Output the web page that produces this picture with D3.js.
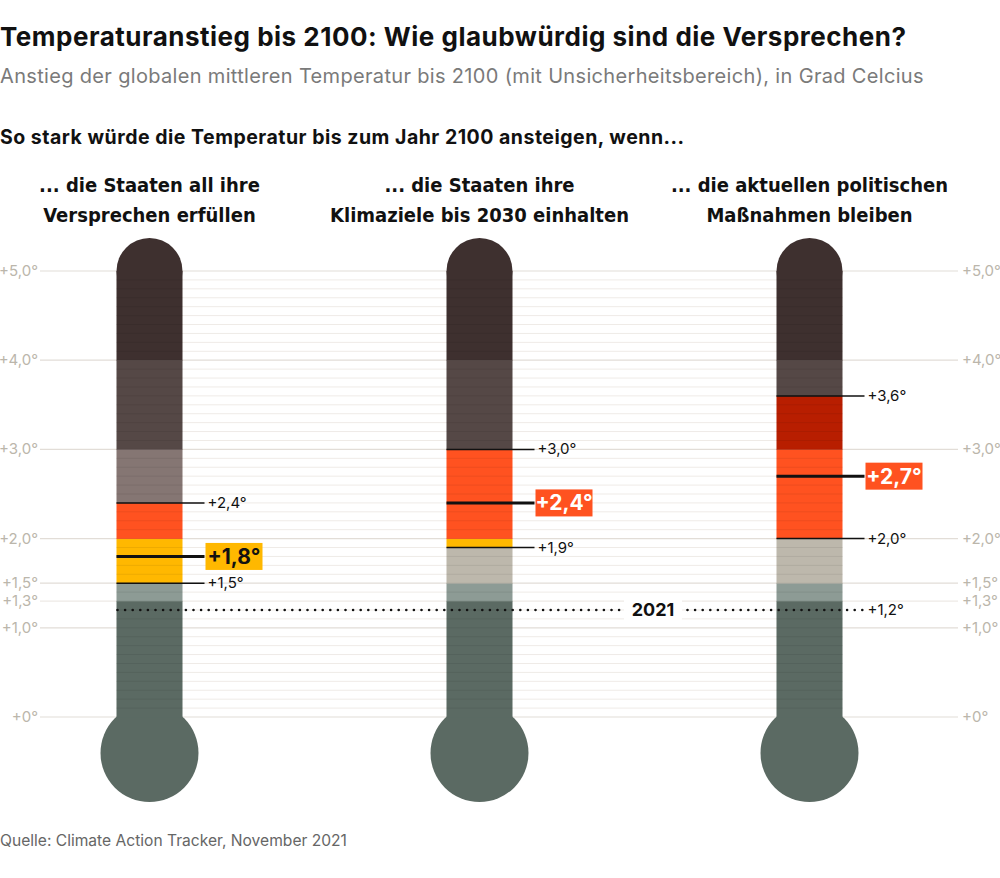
<!DOCTYPE html>
<html>
<head>
<meta charset="utf-8">
<script src="https://d3js.org/d3.v7.min.js"></script>
<style>
  body { margin: 0; background: #fff; }
  svg { display: block; }
  .title { font-family: Inter, "Noto Sans", sans-serif; font-weight: 700; }
  .cond { font-family: "DejaVu Sans Condensed", "DejaVu Sans", sans-serif; font-stretch: condensed; font-weight: 700; }
</style>
</head>
<body>
<div id="chart"></div>
<script>
(function() {
  // --- Daten ---
  const headerLine1 = ["... die Staaten all ihre", "... die Staaten ihre", "... die aktuellen politischen"];
  const headerLine2 = ["Versprechen erfüllen", "Klimaziele bis 2030 einhalten", "Maßnahmen bleiben"];
  const lowValues  = [1.5, 1.9, 2.0];
  const midValues  = [1.8, 2.4, 2.7];
  const highValues = [2.4, 3.0, 3.6];
  const value2021 = 1.2;
  const tickValues = [0, 1, 1.3, 1.5, 2, 3, 4, 5];
  const tickLabels = ["+0°", "+1,0°", "+1,3°", "+1,5°", "+2,0°", "+3,0°", "+4,0°", "+5,0°"];

  // Temperaturzonen: Farbe im Unsicherheitsbereich / außerhalb
  const zoneStart = [0, 1.3, 1.5, 2, 3, 4];
  const zoneEnd   = [1.3, 1.5, 2, 3, 4, 5];
  const zoneActive = ["#5b6a63", "#8d9b95", "#ffb800", "#ff5220", "#b81e00", "#3e302f"];
  const zoneMuted  = ["#5b6a63", "#8d9b95", "#bdb8ac", "#857673", "#554846", "#3e302f"];

  const fmt = v => "+" + d3.format(".1f")(v).replace(".", ",") + "°";

  // --- Layout ---
  const width = 1000, height = 878;
  const tubeW = 66;
  const svg = d3.select("#chart").append("svg")
    .attr("width", width).attr("height", height);

  const y = d3.scaleLinear().domain([0, 5]).range([717, 271]);
  const x = d3.scalePoint().domain(d3.range(3)).range([149.5, 809.5]);

  // --- Texte oben ---
  svg.append("text").attr("class", "title").attr("x", 0).attr("y", 46)
    .attr("font-size", 26).attr("letter-spacing", 0.5).attr("fill", "#111")
    .text("Temperaturanstieg bis 2100: Wie glaubwürdig sind die Versprechen?");
  svg.append("text").attr("x", 0).attr("y", 83)
    .style("font-family", "Inter, 'Noto Sans', sans-serif")
    .attr("font-size", 20).attr("letter-spacing", 0.33).attr("fill", "#7a7a7a")
    .text("Anstieg der globalen mittleren Temperatur bis 2100 (mit Unsicherheitsbereich), in Grad Celcius");
  svg.append("text").attr("class", "title").attr("x", 0).attr("y", 144)
    .attr("font-size", 19.5).attr("letter-spacing", 0.5).attr("fill", "#111")
    .text("So stark würde die Temperatur bis zum Jahr 2100 ansteigen, wenn...");

  svg.selectAll(".h1").data(headerLine1).enter().append("text")
    .attr("class", "cond").attr("x", (d, i) => x(i)).attr("y", 192)
    .attr("text-anchor", "middle").attr("font-size", 20).attr("fill", "#111")
    .text(d => d);
  svg.selectAll(".h2").data(headerLine2).enter().append("text")
    .attr("class", "cond").attr("x", (d, i) => x(i)).attr("y", 222)
    .attr("text-anchor", "middle").attr("font-size", 20).attr("fill", "#111")
    .text(d => d);

  // --- Gitterlinien ---
  const minor = d3.range(1, 50).map(i => i / 10).filter(v => !tickValues.some(t => Math.abs(t - v) < 1e-6));
  const tubeLeft = x(0) - tubeW / 2, tubeRight = x(2) + tubeW / 2;
  svg.append("g").selectAll("line").data(minor).enter().append("line")
    .attr("x1", tubeLeft).attr("x2", tubeRight)
    .attr("y1", d => y(d)).attr("y2", d => y(d))
    .attr("stroke", "#efebe7").attr("stroke-width", 1);

  svg.append("g").selectAll("line").data(tickValues).enter().append("line")
    .attr("x1", 40).attr("x2", 958)
    .attr("y1", d => y(d)).attr("y2", d => y(d))
    .attr("stroke", d => d === 1.3 ? "#eeeae6" : "#e2ddd7").attr("stroke-width", 1.2);

  const tickFont = "Inter, 'Noto Sans', sans-serif";
  svg.append("g").selectAll("text").data(tickValues).enter().append("text")
    .attr("x", 38).attr("y", d => y(d) + 5).attr("text-anchor", "end")
    .style("font-family", tickFont).attr("font-size", 15).attr("fill", "#bbb6ab")
    .text((d, i) => tickLabels[i]);
  svg.append("g").selectAll("text").data(tickValues).enter().append("text")
    .attr("x", 962).attr("y", d => y(d) + 5)
    .style("font-family", tickFont).attr("font-size", 15).attr("fill", "#bbb6ab")
    .text((d, i) => tickLabels[i]);

  // --- Thermometer ---
  d3.range(3).forEach(i => {
    const cx = x(i), x0 = cx - tubeW / 2;
    const lo = lowValues[i], hi = highValues[i];
    const g = svg.append("g");

    // Kappe oben und Kugel unten
    g.append("circle").attr("cx", cx).attr("cy", y(5)).attr("r", tubeW / 2).attr("fill", zoneMuted[5]);
    g.append("circle").attr("cx", cx).attr("cy", y(0) + 36).attr("r", 49).attr("fill", zoneMuted[0]);

    // Segmente pro Zone, aufgeteilt nach Unsicherheitsbereich
    const segs = [];
    zoneStart.forEach((a, z) => {
      const b = zoneEnd[z];
      const cuts = [a, b];
      if (z >= 2) [lo, hi].forEach(c => { if (c > a && c < b) cuts.push(c); });
      cuts.sort((p, q) => p - q);
      for (let k = 0; k < cuts.length - 1; k++) {
        const s = cuts[k], e = cuts[k + 1], m = (s + e) / 2;
        const inside = z >= 2 && m > lo && m < hi;
        segs.push({ s, e, color: inside ? zoneActive[z] : zoneMuted[z] });
      }
    });
    g.selectAll("rect").data(segs).enter().append("rect")
      .attr("x", x0).attr("width", tubeW)
      .attr("y", d => y(d.e)).attr("height", d => y(d.s) - y(d.e) + 0.3)
      .attr("fill", d => d.color);

    // feine Streifen im Rohr
    g.append("g").selectAll("line").data(d3.range(1, 50).map(k => k / 10)).enter().append("line")
      .attr("x1", x0).attr("x2", x0 + tubeW)
      .attr("y1", d => y(d)).attr("y2", d => y(d))
      .attr("stroke", "rgba(0,0,0,0.07)").attr("stroke-width", 1);

    // Markierungen
    const lineEnd = x0 + tubeW + 22;
    [lo, hi].forEach(v => {
      g.append("line").attr("x1", x0).attr("x2", lineEnd)
        .attr("y1", y(v)).attr("y2", y(v)).attr("stroke", "#111").attr("stroke-width", 1.5);
      g.append("text").attr("x", lineEnd + 3).attr("y", y(v) + 5)
        .style("font-family", tickFont).attr("font-size", 15).attr("fill", "#111")
        .text(fmt(v));
    });

    const mid = midValues[i];
    const midZone = zoneStart.findIndex((a, z) => mid >= a && mid < zoneEnd[z]);
    g.append("line").attr("x1", x0).attr("x2", lineEnd)
      .attr("y1", y(mid)).attr("y2", y(mid)).attr("stroke", "#111").attr("stroke-width", 3);
    g.append("rect").attr("x", lineEnd + 1).attr("y", y(mid) - 13.5)
      .attr("width", 57).attr("height", 27).attr("fill", zoneActive[midZone]);
    g.append("text").attr("class", "title").attr("x", lineEnd + 29.5).attr("y", y(mid) + 7.5)
      .attr("text-anchor", "middle").attr("font-size", 21)
      .attr("fill", midZone === 2 ? "#111" : "#fff")
      .text(fmt(mid));
  });

  // --- 2021 Linie ---
  const line2021End = tubeRight + 22;
  svg.append("line").attr("x1", tubeLeft + 1).attr("x2", line2021End)
    .attr("y1", y(value2021)).attr("y2", y(value2021))
    .attr("stroke", "#111").attr("stroke-width", 2.6)
    .attr("stroke-linecap", "round").attr("stroke-dasharray", "0 7.6");
  svg.append("rect").attr("x", 624).attr("y", y(value2021) - 10).attr("width", 58).attr("height", 20)
    .attr("fill", "#fff");
  svg.append("text").attr("class", "title").attr("x", 653).attr("y", y(value2021) + 6.5)
    .attr("text-anchor", "middle").attr("font-size", 18).attr("fill", "#111")
    .text("2021");
  svg.append("text").attr("x", line2021End + 3).attr("y", y(value2021) + 5)
    .style("font-family", tickFont).attr("font-size", 15).attr("fill", "#111")
    .text(fmt(value2021));

  // --- Quelle ---
  svg.append("text").attr("x", 0).attr("y", 846)
    .style("font-family", tickFont).attr("font-size", 15.6).attr("fill", "#666")
    .text("Quelle: Climate Action Tracker, November 2021");
})();
</script>
</body>
</html>
